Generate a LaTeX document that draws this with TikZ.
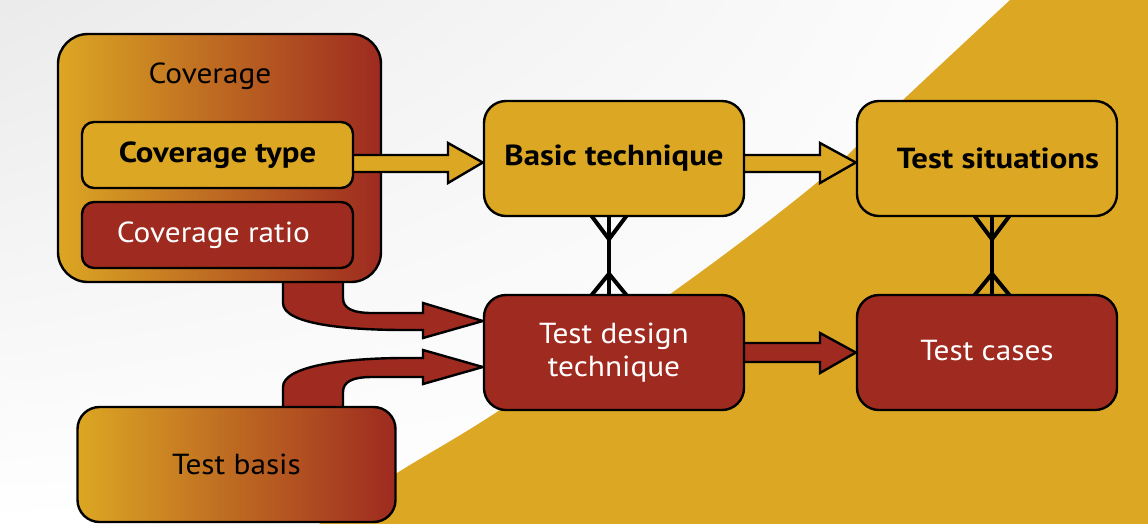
\documentclass[tikz,border=0pt]{standalone}
\usepackage{fontspec}
\setmainfont{PT Sans}[FakeStretch=1.08]
\newfontfamily\heavyfont{PT Sans}[FakeStretch=1.13]
\usetikzlibrary{calc,shadings}
\definecolor{tgold}{RGB}{220,167,35}
\definecolor{tred}{RGB}{158,42,32}
\pgfdeclarelayer{bglayer}
\pgfdeclarelayer{tubelayer}
\pgfdeclarelayer{outerlayer}
\pgfdeclarelayer{arrowlayer}
\pgfsetlayers{bglayer,tubelayer,outerlayer,arrowlayer,main}
\begin{document}
\begin{tikzpicture}[x=1pt,y=-1pt,
  txt/.style={font=\fontsize{29}{33}\selectfont},
  boldtxt/.style={font=\fontsize{29}{33}\selectfont\heavyfont\bfseries},
  box/.style={draw=black, line width=2.4pt, rounded corners=22pt,
    minimum width=260pt, minimum height=115pt, inner sep=0pt, align=center, txt},
  goldbox/.style={box, fill=tgold},
  redbox/.style={box, fill=tred, text=white},
  gradbox/.style={box, left color=tgold, right color=tred},
  smallbox/.style={box, rounded corners=12pt, minimum width=271pt, minimum height=66pt},
  arr/.style={draw=black, line width=2.4pt, line join=miter},
  foot/.style={draw=black, line width=4pt}
]
% canvas and the gold sweep behind everything
\begin{pgfonlayer}{bglayer}
  \path[use as bounding box] (0,0) rectangle (1148,523);
  \shade[upper left=black!8, upper right=white, lower left=white, lower right=white]
    (0,0) rectangle (1148,523);
  \fill[tgold] plot[smooth, tension=0.55] coordinates
    {(1016,-6) (1010,0) (903,100) (820,180) (680,287) (500,410) (397,473) (310,530)}
    -- (1160,530) -- (1160,-6) -- cycle;
\end{pgfonlayer}

% boxes
\begin{pgfonlayer}{outerlayer}
  \node[gradbox, rounded corners=30pt, minimum width=323pt, minimum height=248pt] (cov) at (219.5,158) {};
  \node[txt] (covlbl) at (210,76) {Coverage};
  \node[gradbox, minimum width=318pt] (tb) at (236.5,464.5) {\raisebox{-3pt}{Test basis}};
\end{pgfonlayer}
\node[smallbox, fill=tgold, boldtxt] (cvt) at (217.5,155) {\raisebox{-2pt}{Coverage type}};
\node[smallbox, fill=tred, text=white] (cvr) at (217.5,235) {\hspace*{-8pt}Coverage ratio};
\node[goldbox, boldtxt] (bt) at (614,158.5) {\raisebox{-5pt}{Basic technique}};
\node[goldbox, boldtxt] (ts) at (987,158.5) {\hspace*{22pt}\raisebox{-4pt}{Test situations}};
\node[redbox] (tdt) at (614,352.5) {Test design\\technique};
\node[redbox] (tc) at (987,352.5) {\raisebox{4pt}{Test cases}};

% swept tubes from Coverage and Test basis into the design technique
\begin{pgfonlayer}{tubelayer}
  \path[arr, fill=tred] ($(cov.south)+(63.5,-6)$) -- (283,303)
    .. controls (283,324) and (345,330) .. (405,330) -- (423,330) -- (423,338)
    -- ($(tdt.west)+(0,-31.5)$) -- (423,303) -- (423,313) -- (372,313)
    .. controls (352,313) and (343,308) .. (343,298) -- ($(cov.south)+(123.5,-6)$);
  \path[arr, fill=tred] ($(tb.north)+(46.5,6)$) -- (283,387)
    .. controls (283,366) and (345,358) .. (405,358) -- (423,358) -- (423,350)
    -- ($(tdt.west)+(0,14.5)$) -- (423,384) -- (423,377) -- (372,377)
    .. controls (352,377) and (343,382) .. (343,392) -- ($(tb.north)+(106.5,6)$);
\end{pgfonlayer}

% block arrows and crow's-foot links
\begin{pgfonlayer}{arrowlayer}
  \path[arr, fill=tgold] ($(cvt.east)+(-6,0)$) -- (448,155) -- (448,143)
    -- ($(bt.west)+(0,4)$) -- (448,183) -- (448,172) -- ($(cvt.east)+(-6,17)$);
  \path[arr, fill=tgold] ($(bt.east)+(-6,-3.5)$) -- (820,155) -- (820,143)
    -- ($(ts.west)+(0,4)$) -- (820,183) -- (820,172) -- ($(bt.east)+(-6,13.5)$);
  \path[arr, fill=tred] ($(tdt.east)+(-6,-9.5)$) -- (820,343) -- (820,333)
    -- (tc.west) -- (820,373) -- (820,362) -- ($(tdt.east)+(-6,9.5)$);

  \draw[foot] ($(bt.south)+(-5,-4)$) -- ($(tdt.north)+(-5,4)$);
  \draw[foot] ($(bt.south)+(-23,-2)$) -- ($(bt.south)+(-5,22)$) -- ($(bt.south)+(13,-2)$);
  \draw[foot] ($(tdt.north)+(-23,2)$) -- ($(tdt.north)+(-5,-20)$) -- ($(tdt.north)+(13,2)$);
  \draw[foot] ($(ts.south)+(5,-4)$) -- ($(tc.north)+(5,4)$);
  \draw[foot] ($(ts.south)+(-13,-2)$) -- ($(ts.south)+(5,22)$) -- ($(ts.south)+(23,-2)$);
  \draw[foot] ($(tc.north)+(-13,2)$) -- ($(tc.north)+(5,-20)$) -- ($(tc.north)+(23,2)$);
\end{pgfonlayer}
\end{tikzpicture}
\end{document}
